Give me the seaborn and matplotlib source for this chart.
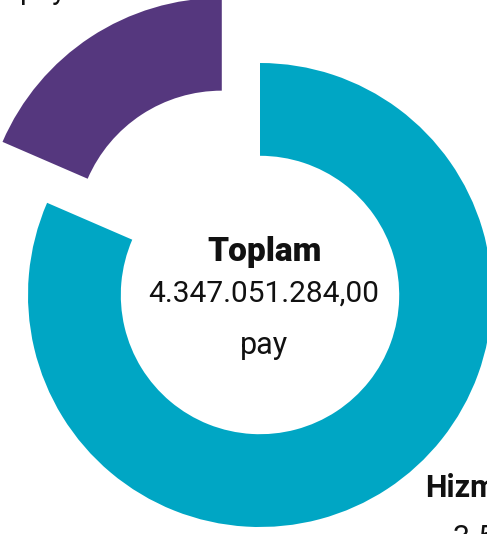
import matplotlib
matplotlib.use("Agg")
import matplotlib.pyplot as plt
import seaborn as sns

sns.set_theme(style="white")
plt.rcParams['font.family'] = ['Roboto', 'DejaVu Sans']

# --- datos ---
kategoriler = ['Hizmet', 'Diğer']
paylar = [3543000000, 804051284]
renkler = ['#00a6c4', '#55377e']
patlatma = [0.0, 0.30]
toplam_metin = "4.347.051.284,00"
hizmet_metin = "3.543.000.000,00 pay"

W, H = 487, 534
fig = plt.figure(figsize=(W / 100, H / 100), dpi=100)
ax = fig.add_axes([0, 0, 1, 1])

# halka grafik (donut)
wedges, _ = ax.pie(paylar, colors=renkler, explode=patlatma, startangle=90,
                   counterclock=False, radius=1.0,
                   wedgeprops=dict(width=0.4, linewidth=0))
wedges[1].set_radius(1.03)
wedges[1].set_width(0.4)

# piksel -> veri koordinatı (merkez ~ (260, 295) px, 232 px = 1 birim)
cx, cy, s = 260, 295, 232
ax.set_xlim((0 - cx) / s, (W - cx) / s)
ax.set_ylim((cy - H) / s, (cy - 0) / s)
ax.set_aspect('equal')
ax.axis('off')

def px(x, y):
    return (x - cx) / s, (cy - y) / s

# orta metin
ax.text(*px(265, 252), "Toplam", ha='center', va='center', fontsize=24,
        fontweight='black', color='#111111')
ax.text(*px(264, 294), toplam_metin, ha='center', va='center', fontsize=21.5,
        color='#111111')
ax.text(*px(264, 346), "pay", ha='center', va='center', fontsize=22,
        color='#111111')

# dilim etiketleri (kenarda kırpılmış)
ax.text(*px(425, 497), kategoriler[0], ha='left', va='baseline', fontsize=22,
        fontweight='bold', color='#111111')
ax.text(*px(453, 547), hizmet_metin, ha='left', va='baseline',
        fontsize=22, color='#111111')
ax.text(*px(20, -1), "pay", ha='left', va='baseline', fontsize=21,
        color='#111111')

fig.savefig("out.png", dpi=100)
